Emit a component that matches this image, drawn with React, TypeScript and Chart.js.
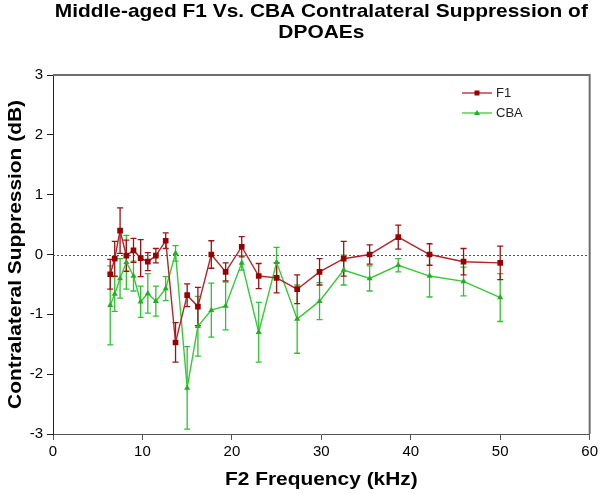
import React, { useEffect, useRef } from 'react';
import { Chart, registerables } from 'chart.js';

Chart.register(...registerables);

const titleLines = ['Middle-aged F1 Vs. CBA Contralateral Suppression of', 'DPOAEs'];
const xTitle = 'F2 Frequency (kHz)';
const yTitle = 'Contralateral Suppression (dB)';
const seriesNames = ['F1', 'CBA'];

const freqs = [6.4, 6.9, 7.5, 8.2, 9.0, 9.8, 10.6, 11.5, 12.6, 13.7, 15.0, 16.2, 17.7, 19.3, 21.1, 23.0, 25.0, 27.3, 29.8, 32.5, 35.4, 38.6, 42.1, 45.9, 50.0];

const f1Values = [-0.33, -0.07, 0.40, -0.02, 0.07, -0.06, -0.12, -0.02, 0.23, -1.47, -0.68, -0.87, 0.00, -0.29, 0.13, -0.36, -0.39, -0.58, -0.29, -0.07, 0.00, 0.29, 0.00, -0.12, -0.14];
const f1Errors = [0.25, 0.29, 0.38, 0.26, 0.20, 0.31, 0.15, 0.12, 0.13, 0.33, 0.19, 0.32, 0.23, 0.15, 0.17, 0.21, 0.25, 0.24, 0.22, 0.29, 0.16, 0.20, 0.18, 0.22, 0.28];

const cbaValues = [-0.85, -0.66, -0.40, -0.13, -0.36, -0.79, -0.65, -0.78, -0.57, 0.02, -2.23, -1.20, -0.93, -0.86, -0.14, -1.30, -0.13, -1.08, -0.78, -0.26, -0.40, -0.18, -0.36, -0.45, -0.72];
const cbaErrors = [0.66, 0.29, 0.33, 0.45, 0.25, 0.26, 0.33, 0.25, 0.20, 0.13, 0.69, 0.50, 0.45, 0.40, 0.12, 0.50, 0.25, 0.57, 0.31, 0.25, 0.21, 0.11, 0.35, 0.24, 0.40];

const FONT = "'Liberation Sans', Arial, sans-serif";
const RED_LINE = '#b8202a';
const RED_MARK = '#990000';
const RED_ERR = '#a01010';
const GREEN_LINE = '#33cc33';
const GREEN_MARK = '#22b022';
const GREEN_ERR = '#2ec42e';

const errorSets = [
  { values: f1Values, errors: f1Errors, color: RED_ERR },
  { values: cbaValues, errors: cbaErrors, color: GREEN_ERR },
];

function stretchedText(ctx: CanvasRenderingContext2D, text: string, x: number, y: number, sx: number, rot: number) {
  ctx.save();
  ctx.translate(x, y);
  ctx.rotate(rot);
  ctx.scale(sx, 1);
  ctx.fillText(text, 0, 0);
  ctx.restore();
}

const extrasPlugin = {
  id: 'extras',
  beforeDatasetsDraw(chart: any) {
    const { ctx, chartArea, scales } = chart;
    const xs = scales.x;
    const ys = scales.y;
    ctx.save();
    ctx.strokeStyle = '#555';
    ctx.lineWidth = 1;
    ctx.setLineDash([2, 2]);
    const y0 = Math.round(ys.getPixelForValue(0)) + 0.5;
    ctx.beginPath();
    ctx.moveTo(chartArea.left, y0);
    ctx.lineTo(chartArea.right, y0);
    ctx.stroke();
    ctx.setLineDash([]);
    for (let s = errorSets.length - 1; s >= 0; s--) {
      const set = errorSets[s];
      ctx.strokeStyle = set.color;
      ctx.lineWidth = 1.3;
      for (let i = 0; i < freqs.length; i++) {
        const px = xs.getPixelForValue(freqs[i]);
        const top = ys.getPixelForValue(set.values[i] + set.errors[i]);
        const bot = ys.getPixelForValue(set.values[i] - set.errors[i]);
        ctx.beginPath();
        ctx.moveTo(px, top);
        ctx.lineTo(px, bot);
        ctx.moveTo(px - 3, top);
        ctx.lineTo(px + 3, top);
        ctx.moveTo(px - 3, bot);
        ctx.lineTo(px + 3, bot);
        ctx.stroke();
      }
    }
    ctx.restore();
  },
  afterDraw(chart: any) {
    const { ctx, chartArea } = chart;
    ctx.save();
    ctx.strokeStyle = '#6e6e6e';
    ctx.lineWidth = 2;
    ctx.beginPath();
    ctx.moveTo(chartArea.left, chartArea.top);
    ctx.lineTo(chartArea.right, chartArea.top);
    ctx.lineTo(chartArea.right, chartArea.bottom);
    ctx.stroke();

    // titles (bold, slightly wide as in the reference)
    const cx = (chartArea.left + chartArea.right) / 2;
    const cy = (chartArea.top + chartArea.bottom) / 2;
    ctx.fillStyle = '#000';
    ctx.font = `bold 19px ${FONT}`;
    ctx.textAlign = 'center';
    ctx.textBaseline = 'alphabetic';
    stretchedText(ctx, titleLines[0], cx, 17, 1.1, 0);
    stretchedText(ctx, titleLines[1], cx, 38, 1.1, 0);
    stretchedText(ctx, xTitle, cx, 485, 1.1, 0);
    stretchedText(ctx, yTitle, 21, cy, 1.1, -Math.PI / 2);

    // legend
    const items = [
      { name: seriesNames[0], line: RED_LINE, mark: RED_MARK, shape: 'rect' },
      { name: seriesNames[1], line: GREEN_LINE, mark: GREEN_MARK, shape: 'tri' },
    ];
    const lx0 = 462;
    const lx1 = 492;
    const ly = [93, 113];
    ctx.font = `13px ${FONT}`;
    ctx.textBaseline = 'middle';
    ctx.textAlign = 'left';
    items.forEach((it, i) => {
      const y = ly[i];
      ctx.strokeStyle = it.line;
      ctx.lineWidth = 1.3;
      ctx.beginPath();
      ctx.moveTo(lx0, y);
      ctx.lineTo(lx1, y);
      ctx.stroke();
      ctx.fillStyle = it.mark;
      const mx = (lx0 + lx1) / 2;
      if (it.shape === 'rect') {
        ctx.fillRect(mx - 2.5, y - 2.5, 5, 5);
      } else {
        ctx.beginPath();
        ctx.moveTo(mx, y - 3);
        ctx.lineTo(mx + 3, y + 2);
        ctx.lineTo(mx - 3, y + 2);
        ctx.closePath();
        ctx.fill();
      }
      ctx.fillStyle = '#222';
      ctx.fillText(it.name, lx1 + 4, y);
    });
    ctx.restore();
  },
};

export default function App() {
  const ref = useRef<HTMLCanvasElement | null>(null);

  useEffect(() => {
    if (!ref.current) return;
    const chart = new Chart(ref.current, {
      type: 'line',
      data: {
        datasets: [
          {
            label: seriesNames[0],
            data: freqs.map((f, i) => ({ x: f, y: f1Values[i] })),
            borderColor: RED_LINE,
            backgroundColor: RED_MARK,
            pointBackgroundColor: RED_MARK,
            pointBorderColor: RED_MARK,
            pointStyle: 'rect',
            pointRadius: 4,
            pointBorderWidth: 0,
            borderWidth: 1.4,
            tension: 0,
          },
          {
            label: seriesNames[1],
            data: freqs.map((f, i) => ({ x: f, y: cbaValues[i] })),
            borderColor: GREEN_LINE,
            backgroundColor: GREEN_MARK,
            pointBackgroundColor: GREEN_MARK,
            pointBorderColor: GREEN_MARK,
            pointStyle: 'triangle',
            pointRadius: 3.5,
            pointBorderWidth: 0,
            borderWidth: 1.4,
            tension: 0,
          },
        ],
      },
      options: {
        responsive: false,
        animation: false,
        layout: { padding: { left: 0, right: 8, top: 75, bottom: 0 } },
        plugins: {
          legend: { display: false },
          tooltip: { enabled: false },
          title: { display: false },
        },
        scales: {
          x: {
            type: 'linear',
            min: 0,
            max: 60,
            afterFit: (s: any) => { s.height = 60; },
            ticks: { stepSize: 10, color: '#000', font: { family: FONT, size: 15 }, padding: 3, maxRotation: 0 },
            grid: { drawOnChartArea: false, drawTicks: true, tickLength: 6, tickColor: '#555' },
            border: { display: true, color: '#555', width: 1 },
            title: { display: false },
          },
          y: {
            type: 'linear',
            min: -3,
            max: 3,
            afterFit: (s: any) => { s.width = 53; },
            ticks: { stepSize: 1, color: '#000', font: { family: FONT, size: 15 }, padding: 4 },
            grid: { drawOnChartArea: false, drawTicks: true, tickLength: 6, tickColor: '#222' },
            border: { display: true, color: '#222', width: 1 },
            title: { display: false },
          },
        },
      },
      plugins: [extrasPlugin],
    } as any);
    return () => chart.destroy();
  }, []);

  return (
    <div style={{ position: 'fixed', left: 0, top: 0, width: 601, height: 494, background: '#fff' }}>
      <canvas ref={ref} width={601} height={494} style={{ display: 'block', width: 601, height: 494 }} />
    </div>
  );
}
